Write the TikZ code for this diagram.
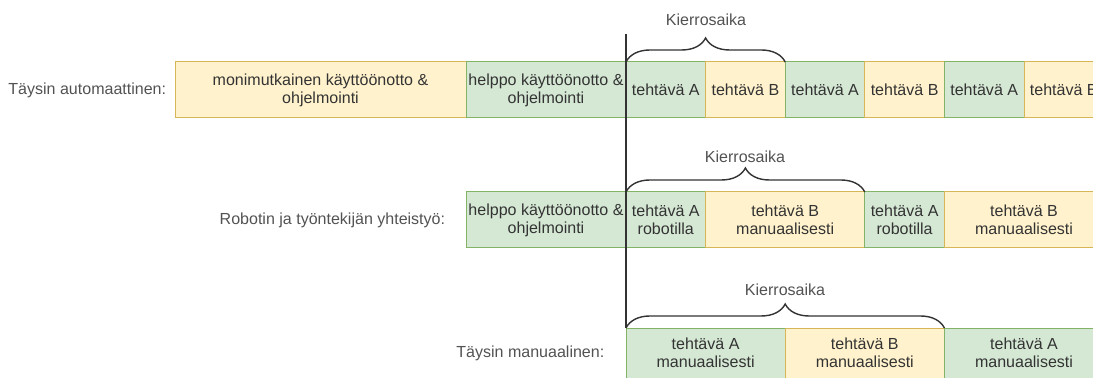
\documentclass[tikz,border=0pt]{standalone}
\usepackage{fontspec}
\setmainfont{Liberation Sans}
\usetikzlibrary{positioning,decorations.pathreplacing}
\definecolor{gfill}{HTML}{D5E8D4}
\definecolor{gline}{HTML}{82B366}
\definecolor{yfill}{HTML}{FFF2CC}
\definecolor{yline}{HTML}{D6B656}
\definecolor{txt}{HTML}{333333}

\begin{document}
\begin{tikzpicture}
[task/.style={rectangle, line width=0.7pt, outer sep=0pt, inner sep=0.05em, minimum height=1.4cm, minimum width=1.99cm, align=center, text=txt, font=\fontsize{11.4}{12.8}\selectfont},
gtask/.style={task, fill=gfill, draw=gline},
ytask/.style={task, fill=yfill, draw=yline},
rowlabel/.style={draw=none, inner sep=1pt, text=txt!85, font=\fontsize{11.4}{12.8}\selectfont},
cycle/.style={draw=txt, line width=1pt, decorate, decoration={brace, amplitude=0.6cm}}]
\clip (0,0) rectangle (27.325,9.45);

\node[ytask, minimum width=7.275cm, anchor=west] (setup1) at (4.375,7.2) {monimutkainen käyttöönotto \&\\ohjelmointi};
\node[gtask, minimum width=4cm, right=0pt of setup1] (easy1) {helppo käyttöönotto \&\\ohjelmointi};
\node[gtask, right=0pt of easy1] (a11) {tehtävä A};
\node[ytask, right=0pt of a11] (b11) {tehtävä B};
\node[gtask, right=0pt of b11] (a12) {tehtävä A};
\node[ytask, right=0pt of a12] (b12) {tehtävä B};
\node[gtask, right=0pt of b12] (a13) {tehtävä A};
\node[ytask, right=0pt of a13] (b13) {tehtävä B};

\node[gtask, minimum width=4cm, anchor=west] (easy2) at (11.65,3.95) {helppo käyttöönotto \&\\ohjelmointi};
\node[gtask, right=0pt of easy2] (a21) {tehtävä A\\robotilla};
\node[ytask, minimum width=3.98cm, right=0pt of a21] (b21) {tehtävä B\\manuaalisesti};
\node[gtask, right=0pt of b21] (a22) {tehtävä A\\robotilla};
\node[ytask, minimum width=3.98cm, right=0pt of a22] (b22) {tehtävä B\\manuaalisesti};

\node[gtask, minimum width=3.98cm, minimum height=1.26cm, anchor=west] (a31) at (15.65,0.62) {tehtävä A\\manuaalisesti};
\node[ytask, minimum width=3.98cm, minimum height=1.26cm, right=0pt of a31] (b31) {tehtävä B\\manuaalisesti};
\node[gtask, minimum width=3.98cm, minimum height=1.26cm, right=0pt of b31] (a32) {tehtävä A\\manuaalisesti};

\node[rowlabel, left=0.18cm of setup1] (auto) {Täysin automaattinen:};
\node[rowlabel, left=0.48cm of easy2] (cobot) {Robotin ja työntekijän yhteistyö:};
\node[rowlabel, left=0.5cm of a31] (manual) {Täysin manuaalinen:};

\coordinate (start) at (15.65,8.6);
\draw[draw=txt, line width=1pt] (start) -- (a31.north west);

\draw[cycle] (a11.north west) -- (b11.north east);
\draw[cycle] (a21.north west) -- (b21.north east);
\draw[cycle] (a31.north west) -- (b31.north east);

\node[rowlabel] (k1) at (17.65,8.95) {Kierrosaika};
\node[rowlabel] (k2) at (18.625,5.525) {Kierrosaika};
\node[rowlabel] (k3) at (19.625,2.2) {Kierrosaika};
\end{tikzpicture}
\end{document}
